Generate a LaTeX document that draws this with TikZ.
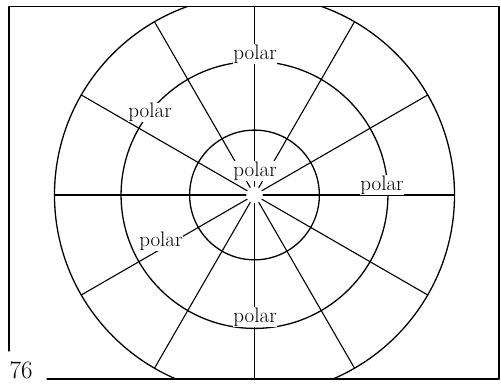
\documentclass[tikz,border=0pt]{standalone}
\usepackage{tikz}
\tikzset{
  pg diagram/.style={line cap=round, line join=round},
  pg ring/.style={draw=black, line width=1.3pt},
  pg spoke/.style={draw=black, line width=1.1pt},
  pg frame/.style={draw=black, line width=1.5pt},
  pg label/.style={font=\fontsize{21}{24}\selectfont, fill=white, inner sep=0.6pt},
  pg folio/.style={font=\fontsize{25}{29}\selectfont, inner sep=0pt}
}

\begin{document}
\begin{tikzpicture}[pg diagram]
\useasboundingbox (-8.945,-6.643) rectangle (8.664,6.853);
\coordinate (c) at (0,0);
% page frame, open at the lower left for the folio
\draw[pg frame] (-8.63,-5.48) -- (-8.63,6.63) -- (8.59,6.63) -- (8.59,-6.47) -- (-7.29,-6.47);
\begin{scope}
  \clip (-8.63,-6.47) rectangle (8.59,6.63);
  \draw[pg ring] (c) circle (7.03);
  \draw[pg spoke] (0,0.3) -- (0,6.63);
  \draw[pg spoke] (0,-0.3) -- (0,-6.47);
\end{scope}
\draw[pg ring] (c) circle (4.69);
\draw[pg ring] (c) circle (2.28);
\foreach \a in {0,30,60,120,150,180,210,240,300,330}
  \draw[pg spoke] (\a:0.3) -- (\a:7.03);
% labels
\node[pg label] (top) at (0.02,4.96) {polar};
\node[pg label] (upleft) at (-3.67,2.90) {polar};
\node[pg label] (mid) at (0.02,0.84) {polar};
\node[pg label] (right) at (4.48,0.35) {polar};
\node[pg label] (lowleft) at (-3.29,-1.62) {polar};
\node[pg label] (bottom) at (0.02,-4.29) {polar};
\node[pg folio] (folio) at (-8.2,-6.16) {76};
\end{tikzpicture}
\end{document}
